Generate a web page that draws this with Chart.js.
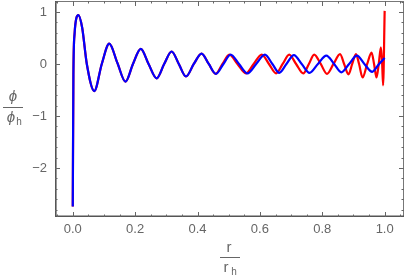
<!DOCTYPE html>
<html><head><meta charset="utf-8">
<script src="https://cdn.jsdelivr.net/npm/chart.js@4"></script>
<style>html,body{margin:0;padding:0;background:#fff}#wrap{width:407px;height:279px;position:relative}</style>
</head><body><div id="wrap"><canvas id="c" width="407" height="279"></canvas></div>
<script>
// ---- data ----
const blueX = [0, 0.002, 0.006, 0.011, 0.018, 0.030, 0.045, 0.069, 0.093, 0.117, 0.143, 0.169, 0.193, 0.218, 0.243, 0.269, 0.293, 0.317, 0.340, 0.363, 0.388, 0.413, 0.436, 0.459, 0.483, 0.506, 0.533, 0.560, 0.588, 0.616, 0.640, 0.662, 0.685, 0.709, 0.734, 0.759, 0.786, 0.813, 0.838, 0.861, 0.886, 0.911, 0.935, 0.960, 0.982, 1.0];
const blueY = [-2.74, -0.2, 0.6, 0.87, 0.94, 0.70, 0.0, -0.52, 0.0, 0.39, 0.02, -0.34, 0.0, 0.29, 0.0, -0.275, 0.0, 0.24, 0.0, -0.24, 0.0, 0.20, 0.0, -0.19, 0.0, 0.18, 0.0, -0.18, 0.0, 0.18, 0.0, -0.17, 0.0, 0.17, 0.0, -0.17, 0.0, 0.16, 0.0, -0.16, 0.0, 0.16, 0.0, -0.15, 0.0, 0.115];
const redX = [0, 0.002, 0.006, 0.011, 0.018, 0.030, 0.045, 0.069, 0.093, 0.117, 0.143, 0.169, 0.193, 0.218, 0.243, 0.269, 0.293, 0.317, 0.340, 0.363, 0.388, 0.413, 0.436, 0.458, 0.480, 0.502, 0.528, 0.555, 0.580, 0.606, 0.629, 0.652, 0.673, 0.694, 0.716, 0.739, 0.757, 0.774, 0.795, 0.815, 0.836, 0.857, 0.870, 0.884, 0.896, 0.908, 0.918, 0.929, 0.944, 0.958, 0.966, 0.974, 0.981, 0.988, 0.992, 0.995, 1.0];
const redY = [-2.74, -0.2, 0.6, 0.87, 0.94, 0.70, 0.0, -0.52, 0.0, 0.39, 0.02, -0.34, 0.0, 0.29, 0.0, -0.275, 0.0, 0.24, 0.0, -0.24, 0.0, 0.20, 0.0, -0.19, 0.0, 0.18, 0.0, -0.18, 0.0, 0.18, 0.0, -0.18, 0.0, 0.18, 0.0, -0.18, 0.0, 0.18, 0.0, -0.19, 0.0, 0.19, 0.0, -0.20, 0.0, 0.19, 0.0, -0.26, 0.0, 0.22, 0.0, -0.26, 0.0, 0.32, 0.0, -0.41, 1.02];
const xTicks = [0.0, 0.2, 0.4, 0.6, 0.8, 1.0];
const yTicks = [-2, -1, 0, 1];
const xMinorStep = 0.05;
const yMinorStep = 0.2;

const toPts = (xs, ys) => xs.map((x, i) => ({x: x, y: ys[i]}));
const GRAY = '#666666';
const FONT = '"Liberation Sans", Arial, sans-serif';

const framePlugin = {
  id: 'frame',
  beforeDatasetsDraw(chart) {
    const {ctx, chartArea: a, scales: {x, y}} = chart;
    ctx.save();
    ctx.strokeStyle = '#777';
    ctx.lineWidth = 1;
    ctx.strokeRect(a.left + 0.5, a.top + 0.5, a.right - a.left - 1, a.bottom - a.top - 1);
    ctx.strokeStyle = '#555';
    ctx.lineWidth = 1.6;
    ctx.beginPath();
    ctx.moveTo(a.left + 0.8, a.top); ctx.lineTo(a.left + 0.8, a.bottom - 0.8); ctx.lineTo(a.right, a.bottom - 0.8);
    ctx.stroke();
    ctx.strokeStyle = '#666';
    ctx.lineWidth = 1;
    ctx.beginPath();
    const tick = (px, major, vertical) => {
      const L = major ? 5 : 2.5;
      if (vertical) {
        ctx.moveTo(px, a.bottom); ctx.lineTo(px, a.bottom - L);
        ctx.moveTo(px, a.top); ctx.lineTo(px, a.top + L);
      } else {
        ctx.moveTo(a.left, px); ctx.lineTo(a.left + L, px);
        ctx.moveTo(a.right, px); ctx.lineTo(a.right - L, px);
      }
    };
    for (let k = Math.ceil(x.min / xMinorStep); k * xMinorStep <= x.max; k++) {
      const v = k * xMinorStep;
      const major = xTicks.some(t => Math.abs(t - v) < 1e-9);
      tick(Math.round(x.getPixelForValue(v)) + 0.5, major, true);
    }
    for (let k = Math.ceil(y.min / yMinorStep); k * yMinorStep <= y.max; k++) {
      const v = k * yMinorStep;
      const major = yTicks.some(t => Math.abs(t - v) < 1e-9);
      tick(Math.round(y.getPixelForValue(v)) + 0.5, major, false);
    }
    ctx.stroke();
    ctx.restore();
  },
  afterDraw(chart) {
    const {ctx} = chart;
    ctx.save();
    ctx.fillStyle = GRAY; ctx.strokeStyle = GRAY; ctx.lineWidth = 1;
    ctx.textAlign = 'center'; ctx.textBaseline = 'alphabetic';
    // y title: phi / phi_h
    ctx.font = 'italic 15px ' + FONT;
    ctx.fillText('\u03D5', 13, 101);
    ctx.beginPath(); ctx.moveTo(3, 107.5); ctx.lineTo(23, 107.5); ctx.stroke();
    ctx.fillText('\u03D5', 11, 122);
    ctx.font = '10px ' + FONT;
    ctx.fillText('h', 19, 125);
    // x title: r / r_h
    ctx.font = '15px ' + FONT;
    ctx.fillText('r', 229, 252);
    ctx.beginPath(); ctx.moveTo(220, 257.5); ctx.lineTo(240, 257.5); ctx.stroke();
    ctx.fillText('r', 226, 272);
    ctx.font = '10px ' + FONT;
    ctx.fillText('h', 234, 275);
    ctx.restore();
  }
};

new Chart(document.getElementById('c'), {
  type: 'line',
  data: {
    datasets: [
      {label: 'blue', data: toPts(blueX, blueY), borderColor: '#0000ff', borderWidth: 2.2, pointRadius: 0, fill: false, cubicInterpolationMode: 'monotone'},
      {label: 'red', data: toPts(redX, redY), borderColor: '#ff0000', borderWidth: 2.2, pointRadius: 0, fill: false, cubicInterpolationMode: 'monotone'}
    ]
  },
  options: {
    responsive: false, animation: false, devicePixelRatio: 1,
    layout: {padding: {top: 1, right: 3, left: 0, bottom: 0}},
    plugins: {legend: {display: false}, tooltip: {enabled: false}},
    scales: {
      x: {
        type: 'linear', min: -0.057, max: 1.062,
        afterBuildTicks: s => { s.ticks = xTicks.map(v => ({value: v})); },
        afterFit: s => { s.height = 62; s.paddingLeft = 0; s.paddingRight = 0; s.paddingTop = 0; s.paddingBottom = 0; },
        grid: {display: false, drawTicks: false}, border: {display: false},
        ticks: {color: GRAY, font: {family: FONT, size: 13}, padding: 5, maxRotation: 0, autoSkip: false,
                callback: v => Number(v).toFixed(1)}
      },
      y: {
        type: 'linear', min: -2.94, max: 1.21,
        afterBuildTicks: s => { s.ticks = yTicks.map(v => ({value: v})); },
        afterFit: s => { s.width = 55; s.paddingTop = 0; s.paddingBottom = 0; s.paddingLeft = 0; s.paddingRight = 0; },
        grid: {display: false, drawTicks: false}, border: {display: false},
        ticks: {color: GRAY, font: {family: FONT, size: 13}, padding: 8, autoSkip: false,
                callback: v => v < 0 ? '\u2212' + Math.abs(v) : String(v)}
      }
    }
  },
  plugins: [framePlugin]
});
</script></body></html>
